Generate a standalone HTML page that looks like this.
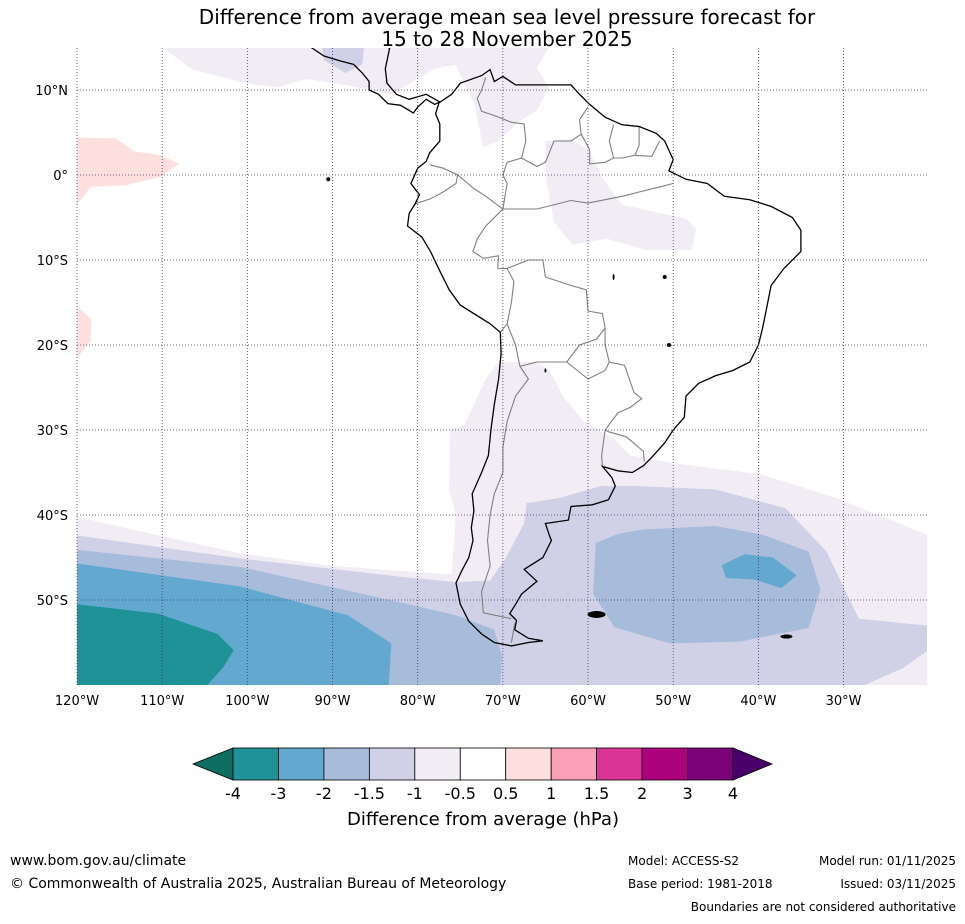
<!DOCTYPE html>
<html><head><meta charset="utf-8"><style>
body{margin:0;background:#fff;font-family:"Liberation Sans",sans-serif;}
svg text{font-family:"DejaVu Sans","Liberation Sans",sans-serif;}
</style></head><body>
<svg id="s" width="965" height="919" xmlns="http://www.w3.org/2000/svg">
<text x="507" y="24" font-size="20" text-anchor="middle">Difference from average mean sea level pressure forecast for</text>
<text x="507" y="46" font-size="20" text-anchor="middle">15 to 28 November 2025</text>
<defs><clipPath id="mc"><rect x="77" y="48" width="850" height="637"/></clipPath></defs>
<g id="map" clip-path="url(#mc)"></g>
<g id="grid"></g>
<g id="cbar"></g>
<text x="483" y="825" font-size="18" text-anchor="middle">Difference from average (hPa)</text>
<text x="10" y="865" font-size="14">www.bom.gov.au/climate</text>
<text x="10" y="888" font-size="14">© Commonwealth of Australia 2025, Australian Bureau of Meteorology</text>
<text x="628" y="865" font-size="12">Model: ACCESS-S2</text>
<text x="956" y="865" font-size="12" text-anchor="end">Model run: 01/11/2025</text>
<text x="628" y="888" font-size="12">Base period: 1981-2018</text>
<text x="956" y="888" font-size="12" text-anchor="end">Issued: 03/11/2025</text>
<text x="956" y="911" font-size="12" text-anchor="end">Boundaries are not considered authoritative</text>
</svg>
<script>
const levels=["-4","-3","-2","-1.5","-1","-0.5","0.5","1","1.5","2","3","4"];
const binColors=["#1f9298","#62a8cf","#a7bbdb","#d0d1e6","#f2ecf5","#ffffff","#fde0dd","#fa9fb5","#dd3497","#ae017e","#7a0177"];
const underColor="#0e6e62", overColor="#49006a";
const latTicks=[10,0,-10,-20,-30,-40,-50];
const lonTicks=[-120,-110,-100,-90,-80,-70,-60,-50,-40,-30];
const lonMin=-120,lonMax=-20.2,latMax=14.9,latMin=-60;
const X=lon=>77+(lon-lonMin)*850/(lonMax-lonMin);
const Y=lat=>175-lat*8.5;
const fillLav="#f2ecf5",fill15="#d0d1e6",fill2="#a7bbdb",fill3="#62a8cf",fill4="#1f9298",fillPink="#fde0dd";
const shapes=[
 ["pink-anomaly-east-pacific",fillPink,[[-120,4.4],[-115.5,4.3],[-113.3,2.8],[-110.2,2.3],[-108,1.3],[-110.2,-0.2],[-114.2,-1.2],[-118.4,-1.4],[-120,-3.5]]],
 ["pink-anomaly-south-pacific",fillPink,[[-120,-15.5],[-118.3,-17],[-118.4,-19.5],[-120,-21.5]]],
 ["lavender-central-america",fillLav,[[-110,15],[-106.4,12.4],[-100.2,10.8],[-96.6,10.3],[-93.1,11.3],[-88,10.5],[-83,9.5],[-78,12.5],[-75.6,13],[-73.4,8.5],[-72.3,3.3],[-70.5,4],[-68.2,6.2],[-66,7.6],[-64.6,10.3],[-66,12.6],[-64.6,15]]],
 ["light-blue-central-america",fill15,[[-91.2,15],[-91,13.5],[-89.5,12.6],[-88.5,12],[-87.5,12.5],[-86.5,13],[-86.3,15]]],
 ["lavender-brazil",fillLav,[[-65,4],[-62,4.2],[-60,3],[-58.2,-0.5],[-56,-3.5],[-50.2,-4.8],[-48.4,-5.2],[-47.3,-6.4],[-47.8,-8.8],[-53.3,-8.8],[-57.8,-7.5],[-61.8,-8.2],[-64,-5.5],[-64.9,-0.6]]],
 ["lavender-south",fillLav,[[-120,-40.2],[-110,-42.5],[-100.9,-44.5],[-90,-46],[-76,-47],[-75.5,-40],[-76.3,-37],[-76.2,-30],[-74.5,-29.4],[-72,-24],[-70.5,-22],[-66,-22],[-64.5,-23],[-63,-26],[-60.5,-29],[-57,-31],[-55,-33],[-50,-33.9],[-39.8,-35.2],[-30.9,-38],[-20.2,-42.3],[-20.2,-60],[-120,-60]]],
 ["light-blue-south",fill15,[[-120,-42.4],[-100.9,-45.1],[-81.8,-47.3],[-75.5,-47.9],[-71.5,-47.7],[-69.8,-45.3],[-67.5,-41],[-67.2,-38.6],[-63.4,-38],[-58.5,-36.6],[-54.1,-36.6],[-45,-37],[-36.8,-39.2],[-32,-44.3],[-28.2,-52.2],[-20.2,-53],[-20.2,-56],[-23,-58],[-27.5,-60],[-120,-60]]],
 ["blue-atlantic",fill2,[[-56.4,-42.2],[-53.6,-41.7],[-45,-41.3],[-39.6,-42.3],[-34.1,-44.3],[-32.7,-48.8],[-34.1,-53.3],[-42.2,-54.9],[-50.4,-55.1],[-56.9,-53.2],[-59.4,-49.3],[-59.1,-43.3]]],
 ["blue-pacific",fill2,[[-120,-44.1],[-100.9,-46.1],[-85,-49.6],[-75.5,-51.8],[-71,-53.5],[-70.1,-56.6],[-70.3,-60],[-120,-60]]],
 ["mid-blue-atlantic",fill3,[[-44.3,-45.9],[-41.6,-44.6],[-38.3,-45],[-35.5,-47.1],[-37.3,-48.6],[-40.5,-47.6],[-43.8,-47.4]]],
 ["mid-blue-pacific",fill3,[[-120,-45.7],[-100.9,-48.4],[-88.2,-51.8],[-83.1,-55.1],[-83.4,-60],[-120,-60]]],
 ["teal-pacific",fill4,[[-120,-50.5],[-110.5,-51.6],[-103.5,-54],[-101.6,-55.9],[-102.8,-57.9],[-104.7,-60],[-120,-60]]]
];
const coast=[[-77.5,8.5],[-76,9.5],[-75,10.8],[-72.5,11.7],[-71.5,12.4],[-71,11],[-70,11.6],[-68.5,10.6],[-66,10.6],[-64,10.6],[-62,10.6],[-61,9.5],[-59.8,8.3],[-58,6.8],[-56,5.9],[-54,5.7],[-52,4.9],[-51,4],[-50,1.8],[-50.5,0.5],[-48.5,-0.5],[-46,-1],[-44,-2.5],[-41,-2.9],[-38.5,-3.7],[-36,-5],[-35,-6.5],[-35,-9],[-37,-11],[-38.5,-13],[-39,-15.5],[-39.5,-18],[-40,-20],[-41,-22],[-43,-23],[-45,-23.6],[-47,-24.5],[-48.5,-26],[-48.7,-28.5],[-50,-30],[-51,-31.5],[-52.5,-33.2],[-53.5,-34.2],[-54.8,-35],[-56.5,-34.8],[-58.3,-34.3],[-57.2,-35.6],[-56.8,-36.6],[-57.6,-38.2],[-59.5,-38.8],[-62,-39],[-62.3,-40.6],[-65,-41],[-64.5,-42.5],[-64.3,-43],[-65.3,-45],[-67.5,-46.4],[-66,-47.8],[-67.8,-49.3],[-68.5,-50.5],[-69.2,-51.6],[-68.4,-52.4],[-68.6,-53.5],[-67,-54.5],[-65.3,-54.8],[-67,-55],[-69,-55.4],[-71,-55],[-72.5,-54],[-74,-52.5],[-75,-50.5],[-75.5,-48],[-74.8,-46.5],[-74,-45],[-73.5,-43],[-73.7,-41.5],[-73.4,-39.5],[-73.6,-37.5],[-72.5,-35],[-71.7,-33],[-71.4,-30],[-71,-27],[-70.5,-24],[-70.2,-21],[-70.3,-18.5],[-71.5,-17.5],[-75,-15.3],[-76.3,-13.5],[-77.3,-11.5],[-78.5,-9],[-79.5,-7.3],[-81.2,-6],[-81,-4.5],[-80.3,-3.4],[-79.8,-2.3],[-80.8,-1],[-80,0.8],[-79,1.6],[-78.6,2.6],[-77.4,4],[-77.4,6],[-77.9,7.2],[-77.5,8.5]];
const camerica=[[-77.4,8.6],[-79,9.5],[-81,8.9],[-82.5,9.5],[-83.6,10.8],[-83.8,12.5],[-83.3,14.9],[-85,16],[-87.5,15.8],[-89,15.9],[-89.5,17]];
const camericaPac=[[-92.5,15],[-91,14],[-89,13.4],[-87.5,13],[-86.5,12],[-85.7,11],[-85.7,10],[-84.6,9.5],[-83.5,8.4],[-82,8.2],[-80.5,7.3],[-80,8],[-79,8.9],[-78,8.3],[-77.4,8.6]];
const borders=[
 [[-69.5,-17.5],[-68.5,-20],[-68,-22.5],[-67,-24],[-68.5,-26],[-69.5,-29],[-70,-32],[-70,-35],[-71,-37.5],[-71.5,-40],[-71.8,-43],[-71.5,-46],[-72.5,-49],[-72.3,-51.5],[-69,-52.2]],
 [[-69,-55],[-68.6,-52.7]],
 [[-80.3,-3.4],[-78.5,-2.8],[-77,-2],[-75.5,-1],[-75.3,0],[-77,0.8],[-78.6,1.2]],
 [[-75.3,0],[-73.5,-1.5],[-72,-2.5],[-70,-4],[-72,-6],[-73,-7.5],[-73.5,-9],[-72.3,-9.8],[-70.5,-9.5],[-70.6,-11],[-69.5,-11],[-68.7,-12.5],[-69,-15],[-69.5,-17.5],[-70.3,-18.5]],
 [[-69.5,-11],[-67,-10],[-65.3,-10],[-65,-12],[-62,-13],[-60.2,-13.5],[-60,-16],[-58.3,-16.3],[-58,-18],[-58,-20],[-57.5,-22],[-55.7,-22.4],[-54.6,-25.6],[-53.7,-26.3],[-55,-27.3],[-56.5,-28],[-58,-30],[-57.6,-30.2],[-55.5,-30.8],[-53.5,-32.5],[-53.4,-33.7]],
 [[-62.5,-22],[-64.5,-22],[-66,-22],[-68,-22.5]],
 [[-62.5,-22],[-61,-20],[-59,-19.3],[-58,-18]],
 [[-57.5,-22],[-58,-23],[-60,-24],[-62.5,-22]],
 [[-58,-30],[-58.4,-33],[-58.3,-34.3]],
 [[-72,11.5],[-72.5,10],[-73,9],[-72.5,7.5],[-71,7],[-69,6.2],[-67.5,6],[-67.3,4],[-67.8,2],[-69.5,1.5],[-70,0],[-69.5,-1],[-70,-4]],
 [[-67.8,2],[-66,1],[-65,1.5],[-64,4],[-62,4],[-60.8,4.8],[-61,6.5],[-60,8]],
 [[-60.8,4.8],[-59.8,3],[-59.8,1.3],[-58,1.5],[-57,2],[-56,2],[-54.5,2.3],[-54,3.5],[-54,5.7]],
 [[-57,2],[-57.5,4],[-57,5.9]],[[-54.5,2.3],[-52.5,2.2],[-51.6,4]],
 [[-70,-4],[-66,-4],[-62,-3],[-60,-3.3],[-56,-2.5],[-54,-2],[-52,-1.5],[-50,-1]]
];
const NS="http://www.w3.org/2000/svg";
function pts(a){return a.map(p=>X(p[0]).toFixed(1)+","+Y(p[1]).toFixed(1)).join(" ");}
const map=document.getElementById("map");
for(const s of shapes){
 const p=document.createElementNS(NS,"polygon");
 p.setAttribute("points",pts(s[2]));p.setAttribute("fill",s[1]);
 
 
 map.appendChild(p);
}
for(const b of borders){
 const l=document.createElementNS(NS,"polyline");
 l.setAttribute("points",pts(b));l.setAttribute("fill","none");l.setAttribute("stroke","#808080");l.setAttribute("stroke-width","1.1");
 
 
 map.appendChild(l);
}
for(const c of [coast,camerica,camericaPac]){
 const l=document.createElementNS(NS,"polyline");
 l.setAttribute("points",pts(c));l.setAttribute("fill","none");l.setAttribute("stroke","#000");l.setAttribute("stroke-width","1.3");
 
 
 map.appendChild(l);
}
const islands=[[-59,-51.7,9,3.5],[-36.7,-54.3,6,2],[-90.5,-0.5,2,2],[-51,-12,2,2],[-50.5,-20,2,2],[-57,-12,1,3],[-65,-23,1,2]];
for(const i of islands){
 const e=document.createElementNS(NS,"ellipse");
 e.setAttribute("cx",X(i[0]));e.setAttribute("cy",Y(i[1]));e.setAttribute("rx",i[2]);e.setAttribute("ry",i[3]);e.setAttribute("fill","#000");
 
 
 map.appendChild(e);
}
const grid=document.getElementById("grid");
for(const la of latTicks){
 const l=document.createElementNS(NS,"line");
 l.setAttribute("x1",77);l.setAttribute("x2",927);l.setAttribute("y1",Y(la));l.setAttribute("y2",Y(la));
 l.setAttribute("stroke","#3a3a6a");l.setAttribute("stroke-width","0.8");l.setAttribute("stroke-dasharray","1,2");
 
 
 grid.appendChild(l);
 const t=document.createElementNS(NS,"text");
 t.setAttribute("x",68);t.setAttribute("y",Y(la)+5);t.setAttribute("font-size","13");t.setAttribute("text-anchor","end");
 t.textContent=la>0?la+"°N":la<0?(-la)+"°S":"0°";
 
 
 grid.appendChild(t);
}
for(const lo of lonTicks){
 const l=document.createElementNS(NS,"line");
 l.setAttribute("x1",X(lo));l.setAttribute("x2",X(lo));l.setAttribute("y1",48);l.setAttribute("y2",685);
 l.setAttribute("stroke","#3a3a6a");l.setAttribute("stroke-width","0.8");l.setAttribute("stroke-dasharray","1,2");
 
 
 grid.appendChild(l);
 const t=document.createElementNS(NS,"text");
 t.setAttribute("x",X(lo));t.setAttribute("y",705);t.setAttribute("font-size","13");t.setAttribute("text-anchor","middle");
 t.textContent=(-lo)+"°W";
 
 
 grid.appendChild(t);
}
const cb=document.getElementById("cbar");
const cx0=233,cx1=733,cy0=748,cy1=780,bw=(cx1-cx0)/binColors.length;
function poly(p,f,name){const e=document.createElementNS(NS,"polygon");e.setAttribute("points",p);e.setAttribute("fill",f);e.setAttribute("stroke","#000");e.setAttribute("stroke-width","0.8");
 
 
 cb.appendChild(e);}
poly(`${cx0},${cy0} 193,${(cy0+cy1)/2} ${cx0},${cy1}`,underColor,"colorbar-under-arrow");
poly(`${cx1},${cy0} 772,${(cy0+cy1)/2} ${cx1},${cy1}`,overColor,"colorbar-over-arrow");
binColors.forEach((c,i)=>{
 const r=document.createElementNS(NS,"rect");
 r.setAttribute("x",cx0+i*bw);r.setAttribute("y",cy0);r.setAttribute("width",bw);r.setAttribute("height",cy1-cy0);
 r.setAttribute("fill",c);r.setAttribute("stroke","#000");r.setAttribute("stroke-width","0.8");
 
 
 cb.appendChild(r);
});
levels.forEach((lv,i)=>{
 const t=document.createElementNS(NS,"text");
 t.setAttribute("x",cx0+i*bw);t.setAttribute("y",799);t.setAttribute("font-size","16");t.setAttribute("text-anchor","middle");
 t.textContent=lv;
 
 
 cb.appendChild(t);
});
</script>
</body></html>
